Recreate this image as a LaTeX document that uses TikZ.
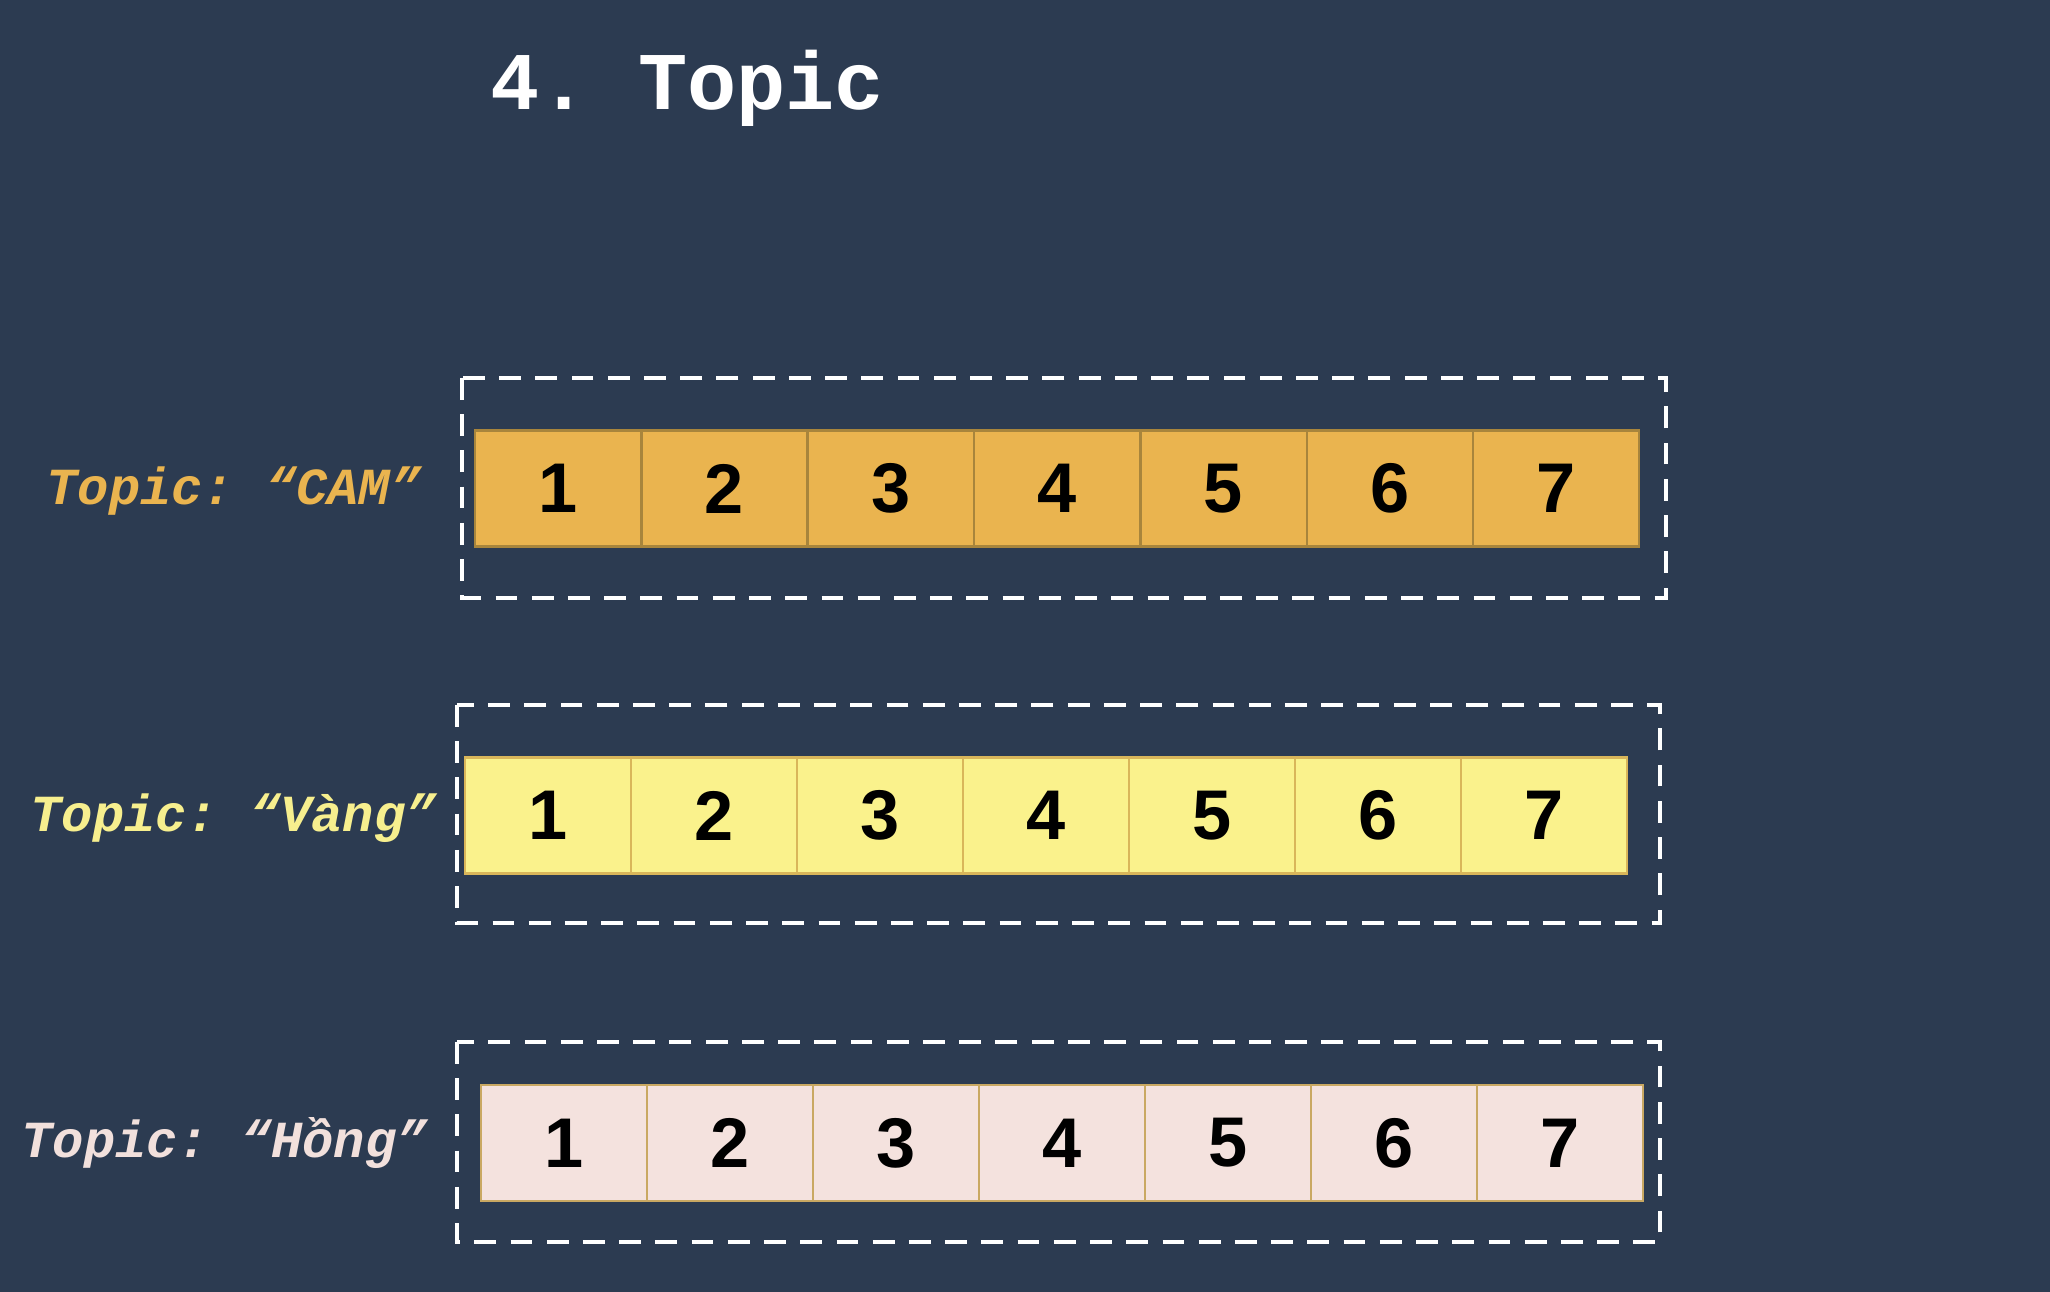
\documentclass[tikz,border=0pt]{standalone}
\usepackage{fontspec}
\setmainfont{Liberation Sans}
\setsansfont{Liberation Sans}
\setmonofont{Liberation Mono}
\usepackage{xcolor}
\usetikzlibrary{positioning}

\definecolor{bgnavy}{HTML}{2C3B51}
\definecolor{camfill}{HTML}{EAB44F}
\definecolor{camline}{HTML}{A8853C}
\definecolor{vangfill}{HTML}{FAF28C}
\definecolor{vangline}{HTML}{D9B65A}
\definecolor{hongfill}{HTML}{F4E2DE}
\definecolor{hongline}{HTML}{C9A862}
\definecolor{camtext}{HTML}{EAB44F}
\definecolor{vangtext}{HTML}{F7EF8E}
\definecolor{hongtext}{HTML}{F2E0DC}

\tikzset{
  cellbox/.style={draw, line width=0.6pt, inner sep=0pt,
    minimum width=1.66cm, minimum height=1.16cm, text=black,
    font=\sffamily\bfseries\fontsize{20}{20}\selectfont},
  camcell/.style={cellbox, fill=camfill, draw=camline},
  vangcell/.style={cellbox, fill=vangfill, draw=vangline},
  hongcell/.style={cellbox, fill=hongfill, draw=hongline},
  topiclabel/.style={anchor=base west, inner sep=0pt,
    font=\ttfamily\bfseries\itshape\fontsize{14.8}{16}\selectfont},
  dashbox/.style={draw=white, line width=1.15pt, dash pattern=on 6.2pt off 4.1pt}
}

\begin{document}
\begin{tikzpicture}[x=0.01cm,y=-0.01cm]
  \fill[bgnavy] (0,0) rectangle (2050,1292);
  \useasboundingbox (0,0) rectangle (2050,1292);

  \node[anchor=base west, inner sep=0pt, text=white,
    font=\ttfamily\bfseries\fontsize{23.3}{25}\selectfont] (title) at (490,110) {4. Topic};

  % CAM
  \draw[dashbox] (462,378) rectangle (1666,598);
  \node[topiclabel, text=camtext] (lcam) at (46,505) {Topic: “CAM”};
  \node[camcell] (c1) at (558,488.5) {1};
  \node[camcell] (c2) at (724.5,488.5) {2};
  \node[camcell] (c3) at (891,488.5) {3};
  \node[camcell] (c4) at (1057,488.5) {4};
  \node[camcell] (c5) at (1223.5,488.5) {5};
  \node[camcell] (c6) at (1390,488.5) {6};
  \node[camcell] (c7) at (1556,488.5) {7};

  % Vang
  \draw[dashbox] (457,705) rectangle (1660,923);
  \node[topiclabel, text=vangtext] (lvang) at (30,832) {Topic: “Vàng”};
  \node[vangcell] (v1) at (548,815.5) {1};
  \node[vangcell] (v2) at (714,815.5) {2};
  \node[vangcell] (v3) at (880,815.5) {3};
  \node[vangcell] (v4) at (1046,815.5) {4};
  \node[vangcell] (v5) at (1212,815.5) {5};
  \node[vangcell] (v6) at (1378,815.5) {6};
  \node[vangcell] (v7) at (1544,815.5) {7};

  % Hong
  \draw[dashbox] (457,1042) rectangle (1660,1242);
  \node[topiclabel, text=hongtext] (lhong) at (21,1158) {Topic: “Hồng”};
  \node[hongcell] (h1) at (564,1143) {1};
  \node[hongcell] (h2) at (730,1143) {2};
  \node[hongcell] (h3) at (896,1143) {3};
  \node[hongcell] (h4) at (1062,1143) {4};
  \node[hongcell] (h5) at (1228,1143) {5};
  \node[hongcell] (h6) at (1394,1143) {6};
  \node[hongcell] (h7) at (1560,1143) {7};
\end{tikzpicture}
\end{document}
